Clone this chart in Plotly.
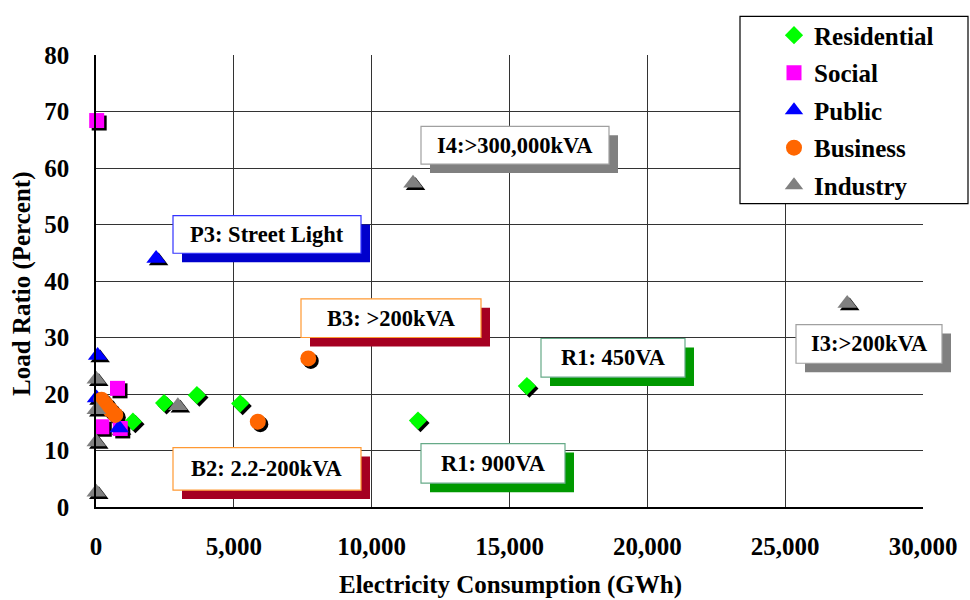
import plotly.graph_objects as go

# ---- data: electricity consumption (GWh) vs load ratio (%) by customer group ----
residential_x = [1340, 2470, 3660, 5230, 11680, 15630]
residential_y = [15.1, 18.4, 19.8, 18.3, 15.3, 21.4]

social_x = [25, 780, 210, 880]
social_y = [68.4, 21.0, 14.2, 13.9]

public_x = [60, 2180, 20, 840]
public_y = [26.8, 44.0, 19.3, 14.0]

business_x = [200, 350, 520, 700, 5870, 7700]
business_y = [19.0, 18.2, 17.2, 16.3, 15.1, 26.3]

industry_x = [10, 10, 10, 10, 2970, 11500, 27250]
industry_y = [22.6, 17.2, 11.5, 2.6, 17.9, 57.3, 36.0]

x_ticks = [0, 5000, 10000, 15000, 20000, 25000, 30000]
y_ticks = [0, 10, 20, 30, 40, 50, 60, 70, 80]

# ---- layout geometry (pixels) ----
W, H = 970, 600
ML, MR, MT, MB = 96, 47, 51, 93
PW, PH = W - ML - MR, H - MT - MB
X_MAX, Y_MAX = 30000, 80

FONT = "Liberation Serif, Times New Roman, serif"
BIG = 25     # tick labels, legend, axis titles
CALL = 22.5  # callout text


def px_x(px):
    return (px - ML) / PW


def px_y(py):
    return (H - MB - py) / PH


# drop-shadow offset of the markers, expressed in data units
SH_DX = 2.5 * X_MAX / PW
SH_DY = -2.5 * Y_MAX / PH

series = [
    ("Residential", residential_x, residential_y, "diamond", "#00ff00", 14),
    ("Social", social_x, social_y, "square", "#ff00ff", 15),
    ("Public", public_x, public_y, "triangle-up", "#0000ff", 17),
    ("Business", business_x, business_y, "circle", "#ff6600", 16),
    ("Industry", industry_x, industry_y, "triangle-up", "#808080", 17),
]

fig = go.Figure()

# black shadows first so the coloured markers sit on top
for name, xs, ys, sym, col, size in series:
    fig.add_trace(go.Scatter(
        x=[v + SH_DX for v in xs], y=[v + SH_DY for v in ys],
        mode="markers", showlegend=False, hoverinfo="skip",
        cliponaxis=False,
        marker=dict(symbol=sym, size=size, color="black", line=dict(width=0)),
    ))

for name, xs, ys, sym, col, size in series:
    fig.add_trace(go.Scatter(
        x=xs, y=ys, mode="markers", name=name, legendgroup=name,
        cliponaxis=False,
        marker=dict(symbol=sym, size=size, color=col, line=dict(width=0)),
    ))

# ---- callout boxes: text, white box (px), border colour, shadow colour ----
callouts = [
    ("I4:>300,000kVA", (421, 123, 609, 161), "#a0a0a0", "#808080"),
    ("P3: Street Light", (173, 213, 361, 251), "#3333ff", "#0000cc"),
    ("B3: >200kVA", (301, 297, 481, 336), "#ff9933", "#a50021"),
    ("R1: 450VA", (541, 337, 685, 376), "#66aa88", "#009900"),
    ("I3:>200kVA", (796, 323, 942, 362), "#a0a0a0", "#808080"),
    ("R1: 900VA", (421, 443, 565, 483), "#66aa88", "#009900"),
    ("B2: 2.2-200kVA", (173, 447, 361, 490), "#ff9933", "#a50021"),
]

shapes = []
annotations = []
for text, (x0, y0, x1, y1), border, shadow in callouts:
    shapes.append(dict(type="rect", xref="paper", yref="paper",
                       x0=px_x(x0 + 9), x1=px_x(x1 + 9),
                       y0=px_y(y0 + 9), y1=px_y(y1 + 9),
                       fillcolor=shadow, line=dict(width=0), layer="above"))
    shapes.append(dict(type="rect", xref="paper", yref="paper",
                       x0=px_x(x0), x1=px_x(x1), y0=px_y(y0), y1=px_y(y1),
                       fillcolor="white", line=dict(color=border, width=1.2),
                       layer="above"))
    annotations.append(dict(xref="paper", yref="paper",
                            x=px_x((x0 + x1) / 2), y=px_y((y0 + y1) / 2),
                            text=text, showarrow=False,
                            xanchor="center", yanchor="middle",
                            font=dict(family=FONT, size=CALL, color="black",
                                      weight="bold")))

# legend frame
shapes.append(dict(type="rect", xref="paper", yref="paper",
                   x0=px_x(740), x1=px_x(968), y0=px_y(12), y1=px_y(201),
                   fillcolor="white", line=dict(color="black", width=1.2),
                   layer="above"))

# axis titles
annotations.append(dict(xref="paper", yref="paper", x=px_x(510), y=px_y(586),
                        text="Electricity Consumption (GWh)", showarrow=False,
                        xanchor="center", yanchor="middle",
                        font=dict(family=FONT, size=BIG, color="black", weight="bold")))
annotations.append(dict(xref="paper", yref="paper", x=px_x(22), y=px_y(282),
                        text="Load Ratio (Percent)", showarrow=False, textangle=-90,
                        xanchor="center", yanchor="middle",
                        font=dict(family=FONT, size=BIG, color="black", weight="bold")))

fig.update_layout(
    width=W, height=H,
    margin=dict(l=ML, r=MR, t=MT, b=MB, pad=0),
    paper_bgcolor="white", plot_bgcolor="white",
    font=dict(family=FONT, size=BIG, color="black"),
    shapes=shapes, annotations=annotations,
    showlegend=True,
    legend=dict(
        x=px_x(774), y=px_y(8), xanchor="left", yanchor="top",
        bgcolor="rgba(0,0,0,0)", borderwidth=0,
        font=dict(family=FONT, size=BIG, color="black", weight="bold"),
        tracegroupgap=2, traceorder="grouped",
        itemsizing="trace",
    ),
    xaxis=dict(
        range=[0, X_MAX], tickvals=x_ticks, tickformat=",",
        showgrid=True, gridcolor="#333333", gridwidth=1,
        showline=True, linecolor="black", linewidth=1.5,
        zeroline=False, ticks="", ticklabelstandoff=16,
        tickfont=dict(family=FONT, size=BIG, color="black", weight="bold"),
    ),
    yaxis=dict(
        range=[0, Y_MAX], tickvals=y_ticks,
        showgrid=True, gridcolor="#333333", gridwidth=1,
        showline=True, linecolor="black", linewidth=1.5,
        zeroline=False, ticks="", ticklabelstandoff=20,
        tickfont=dict(family=FONT, size=BIG, color="black", weight="bold"),
    ),
)

fig.write_html("out.html")
